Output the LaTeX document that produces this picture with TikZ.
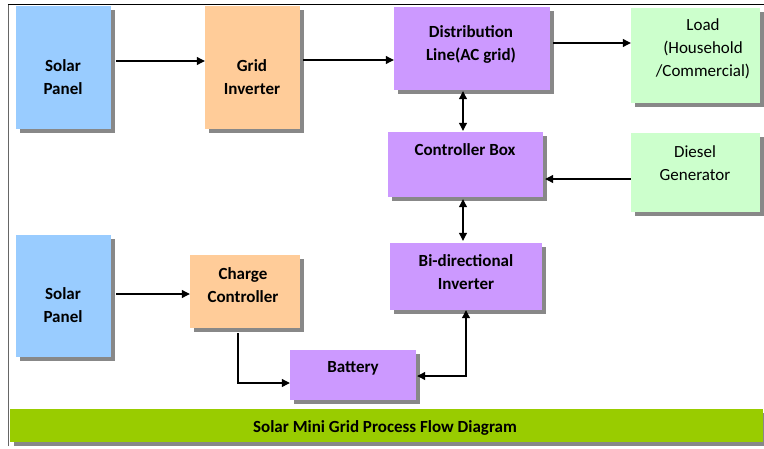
\documentclass[tikz,border=0pt]{standalone}
\usepackage{fontspec}
\setmainfont{Carlito}
\usetikzlibrary{shadows,arrows.meta}
\definecolor{sblue}{HTML}{99CCFF}
\definecolor{sorange}{HTML}{FFCC99}
\definecolor{spurple}{HTML}{CC99FF}
\definecolor{sgreen}{HTML}{CCFFCC}
\definecolor{sbanner}{HTML}{99CC00}
\definecolor{sshadow}{HTML}{888888}
\definecolor{sframe}{HTML}{666666}
\tikzset{
  box/.style={inner sep=0pt, draw=none,
    general shadow={fill=sshadow, shadow xshift=4pt, shadow yshift=-4pt}},
  txt/.style={align=center, inner sep=0pt, font=\fontsize{17}{23}\selectfont\bfseries},
  rtxt/.style={align=center, inner sep=0pt, font=\fontsize{17}{23}\selectfont},
  arr/.style={line width=1.1pt, -{Triangle[length=8pt,width=8pt]}},
  darr/.style={line width=1.1pt, {Triangle[length=8pt,width=8pt]}-{Triangle[length=8pt,width=8pt]}}
}
\begin{document}
\begin{tikzpicture}[x=1pt,y=-1pt]
\useasboundingbox (0,0) rectangle (764,448);
\fill[white] (0,0) rectangle (764,448);
\draw[sframe, line width=1.3pt] (8.5,446) -- (8.5,4.5);
\draw[black, line width=1.3pt] (8,4.5) -- (764,4.5);
% boxes
\node[box, fill=sblue, minimum width=95pt, minimum height=123pt] (sp1) at (63.5,67.5) {};
\node[box, fill=sorange, minimum width=95pt, minimum height=123pt] (gi) at (252.5,67.5) {};
\node[box, fill=spurple, minimum width=156pt, minimum height=83pt] (dl) at (472,48.5) {};
\node[box, fill=sgreen, minimum width=129pt, minimum height=95pt] (load) at (695.5,55.5) {};
\node[box, fill=spurple, minimum width=155pt, minimum height=65pt] (cb) at (465.5,164.5) {};
\node[box, fill=sgreen, minimum width=129pt, minimum height=79pt] (dg) at (695.5,172.5) {};
\node[box, fill=spurple, minimum width=152pt, minimum height=67pt] (bi) at (466,276.5) {};
\node[box, fill=sblue, minimum width=95pt, minimum height=122pt] (sp2) at (63.5,296) {};
\node[box, fill=sorange, minimum width=110pt, minimum height=73pt] (cc) at (245,291.5) {};
\node[box, fill=spurple, minimum width=126pt, minimum height=50pt] (bat) at (353,375) {};
\node[box, fill=sbanner, minimum width=753pt, minimum height=33pt] (ban) at (386.5,425.5) {};
% texts
\node[txt] (tsp1) at (63,77.5) {Solar\\Panel};
\node[txt] (tgi) at (252,77.5) {Grid\\Inverter};
\node[txt] (tdl) at (471,44) {Distribution\\Line(AC grid)};
\node[rtxt] (tload) at (703,49) {Load\\(Household\\/Commercial)};
\node[txt] (tcb) at (465,150) {Controller Box};
\node[rtxt] (tdg) at (695,163.5) {Diesel\\Generator};
\node[txt] (tbi) at (466,272) {Bi-directional\\Inverter};
\node[txt] (tsp2) at (63,305.5) {Solar\\Panel};
\node[txt] (tcc) at (243,285.5) {Charge\\Controller};
\node[txt] (tbat) at (353,368) {Battery};
\node[txt] (tban) at (385,428) {Solar Mini Grid Process Flow Diagram};
% connectors
\draw[arr] ([xshift=5pt,yshift=6.5pt]sp1.east) -- ([yshift=6.5pt]gi.west);
\draw[arr] ([xshift=3pt,yshift=7.5pt]gi.east) -- ([yshift=-11.5pt]dl.west);
\draw[arr] ([xshift=3pt,yshift=5.5pt]dl.east) -- ([yshift=12.5pt]load.west);
\draw[darr] ([xshift=-9pt,yshift=-1pt]dl.south) -- ([xshift=-2.5pt,yshift=1pt]cb.north);
\draw[arr] ([yshift=-6.5pt]dg.west) -- ([xshift=2pt,yshift=-14.5pt]cb.east);
\draw[darr] ([xshift=-2.5pt,yshift=-2pt]cb.south) -- ([xshift=-3pt,yshift=2pt]bi.north);
\draw[arr] ([xshift=5pt,yshift=2pt]sp2.east) -- ([yshift=-2.5pt]cc.west);
\draw[arr] ([xshift=-7pt,yshift=-5pt]cc.south) |- ([yshift=-8pt]bat.west);
\draw[darr] (bi.south) |- ([xshift=1pt,yshift=-1pt]bat.east);
\end{tikzpicture}
\end{document}
